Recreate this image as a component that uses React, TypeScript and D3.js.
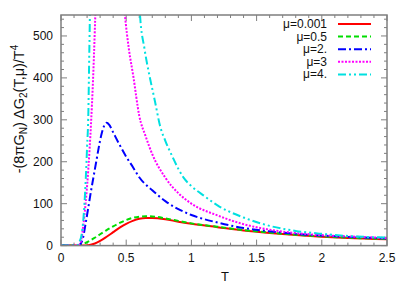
import * as d3 from "d3";

// each series is [T, value] pairs
const MU_LABELS = ["μ=0.001", "μ=0.5", "μ=2.", "μ=3", "μ=4."];
const COLORS = ["#ff0000", "#00dd00", "#0000ff", "#ff00ff", "#00e0e0"];
const DASHES = ["none", "5,3", "8,3,2,3", "2,1.5", "8,3,2,3,2,3"];

const red: [number, number][] = [
  [0, 0], [0.1, 0], [0.18, 0], [0.22, 1.5], [0.26, 5], [0.3, 11], [0.35, 21], [0.4, 32],
  [0.45, 43], [0.5, 52], [0.55, 59], [0.6, 64], [0.65, 66], [0.7, 66], [0.8, 63], [0.9, 57],
  [1.0, 52], [1.2, 44], [1.4, 36], [1.6, 30], [1.8, 25], [2.0, 21], [2.2, 18], [2.5, 15],
];
const green: [number, number][] = [
  [0, 0], [0.1, 0], [0.13, 0.5], [0.16, 3], [0.2, 8], [0.25, 17], [0.3, 27], [0.35, 37],
  [0.4, 46], [0.45, 54], [0.5, 61], [0.55, 66], [0.6, 69], [0.65, 70], [0.7, 69.5], [0.8, 65],
  [0.9, 59], [1.0, 53], [1.2, 45], [1.4, 37], [1.6, 31], [1.8, 26], [2.0, 22], [2.2, 19], [2.5, 16],
];
const blue: [number, number][] = [
  [0, 0], [0.13, 0], [0.15, 4], [0.17, 20], [0.19, 55], [0.21, 92], [0.23, 130], [0.25, 165],
  [0.27, 200], [0.29, 235], [0.31, 265], [0.33, 285], [0.35, 293], [0.37, 288], [0.4, 270],
  [0.45, 240], [0.5, 212], [0.55, 188], [0.6, 163], [0.7, 132], [0.8, 106], [0.9, 87], [1.0, 73],
  [1.2, 55], [1.4, 42], [1.6, 34], [1.8, 28], [2.0, 24], [2.2, 21], [2.5, 17],
];
const magentaLeft: [number, number][] = [
  [0, 0], [0.13, 0], [0.15, 8], [0.17, 45], [0.19, 105], [0.21, 185], [0.23, 290],
  [0.245, 390], [0.26, 520], [0.27, 620],
];
const magentaRight: [number, number][] = [
  [0.47, 620], [0.49, 550], [0.52, 470], [0.555, 403], [0.6, 310], [0.65, 260], [0.7, 218],
  [0.8, 162], [0.9, 125], [1.0, 100], [1.2, 72], [1.4, 51], [1.6, 38], [1.8, 30], [2.0, 25],
  [2.2, 22], [2.5, 18],
];
const cyanLeft: [number, number][] = [
  [0, 0], [0.12, 0], [0.14, 8], [0.16, 30], [0.18, 100], [0.19, 160], [0.2, 235], [0.21, 320],
  [0.215, 420], [0.222, 560], [0.226, 650],
];
const cyanRight: [number, number][] = [
  [0.59, 650], [0.606, 550], [0.64, 470], [0.68, 403], [0.72, 345], [0.76, 285], [0.8, 250],
  [0.85, 215], [0.9, 183], [0.94, 162], [1.0, 142], [1.1, 118], [1.2, 96], [1.4, 67], [1.6, 47],
  [1.8, 35], [2.0, 28], [2.2, 23], [2.5, 19],
];

const SERIES = [[red], [green], [blue], [magentaLeft, magentaRight], [cyanLeft, cyanRight]];
const X_TICKS = [0, 0.5, 1, 1.5, 2, 2.5];
const Y_TICKS = [0, 100, 200, 300, 400, 500];

export default function App() {
  const width = 409, height = 286;
  const left = 61, right = 387, top = 15, bottom = 245.6;
  const x = d3.scaleLinear().domain([0, 2.5]).range([left, right]);
  const y = d3.scaleLinear().domain([0, 550]).range([bottom, top]);
  const line = d3.line<[number, number]>().x(d => x(d[0])).y(d => y(d[1])).curve(d3.curveMonotoneX);

  const xMinor = d3.range(0, 2.5001, 0.1);
  const yMinor = d3.range(0, 550.1, 20);
  const font = "'Liberation Sans', Arial, sans-serif";
  const frame = "#7f7f7f";

  return (
    <svg width={width} height={height} style={{ position: "absolute", left: 0, top: 0, background: "#fff" }}
      fontFamily={font}>
      <defs>
        <clipPath id="plot"><rect x={left} y={top} width={right - left} height={bottom - top} /></clipPath>
      </defs>

      {/* ticks, inward on all four sides */}
      <g stroke={frame} strokeWidth={1}>
        {xMinor.map((t, i) => {
          const len = X_TICKS.some(v => Math.abs(v - t) < 1e-6) ? 6 : 3;
          return (
            <g key={"xt" + i}>
              <line x1={x(t)} x2={x(t)} y1={bottom} y2={bottom - len} />
              <line x1={x(t)} x2={x(t)} y1={top} y2={top + len} />
            </g>
          );
        })}
        {yMinor.map((v, i) => {
          const len = v % 100 === 0 ? 6 : 3;
          return (
            <g key={"yt" + i}>
              <line x1={left} x2={left + len} y1={y(v)} y2={y(v)} />
              <line x1={right} x2={right - len} y1={y(v)} y2={y(v)} />
            </g>
          );
        })}
      </g>

      {/* curves */}
      <g clipPath="url(#plot)" fill="none" strokeWidth={2}>
        {SERIES.map((parts, i) =>
          parts.map((p, j) => (
            <path key={i + "-" + j} d={line(p) || ""} stroke={COLORS[i]}
              strokeDasharray={DASHES[i] === "none" ? undefined : DASHES[i]} />
          ))
        )}
      </g>

      <rect x={left} y={top} width={right - left} height={bottom - top} fill="none" stroke={frame} strokeWidth={1.5} />

      {/* tick labels */}
      <g fontSize={12} fill="#111">
        {X_TICKS.map(t => (
          <text key={"xl" + t} x={x(t)} y={262} textAnchor="middle">{t}</text>
        ))}
        {Y_TICKS.map(v => (
          <text key={"yl" + v} x={53} y={y(v) + 4} textAnchor="end">{v}</text>
        ))}
      </g>

      <text x={225} y={281} fontSize={13} textAnchor="middle" fill="#111">T</text>

      <text transform="translate(24,109) rotate(-90)" fontSize={14.5} textAnchor="middle" fill="#111">
        -(8πG<tspan fontSize={10} dy={3}>N</tspan><tspan dy={-3}>)  ΔG</tspan>
        <tspan fontSize={10} dy={3}>2</tspan><tspan dy={-3}>(T,μ)/T</tspan>
        <tspan fontSize={10} dy={-6}>4</tspan>
      </text>

      {/* legend */}
      <g fontSize={12} fill="#111">
        {MU_LABELS.map((lab, i) => {
          const ly = 24 + i * 12.6;
          return (
            <g key={lab}>
              <text x={327} y={ly + 4} textAnchor="end">{lab}</text>
              <line x1={338} x2={371} y1={ly} y2={ly} stroke={COLORS[i]} strokeWidth={2}
                strokeDasharray={DASHES[i] === "none" ? undefined : DASHES[i]} />
            </g>
          );
        })}
      </g>
    </svg>
  );
}
